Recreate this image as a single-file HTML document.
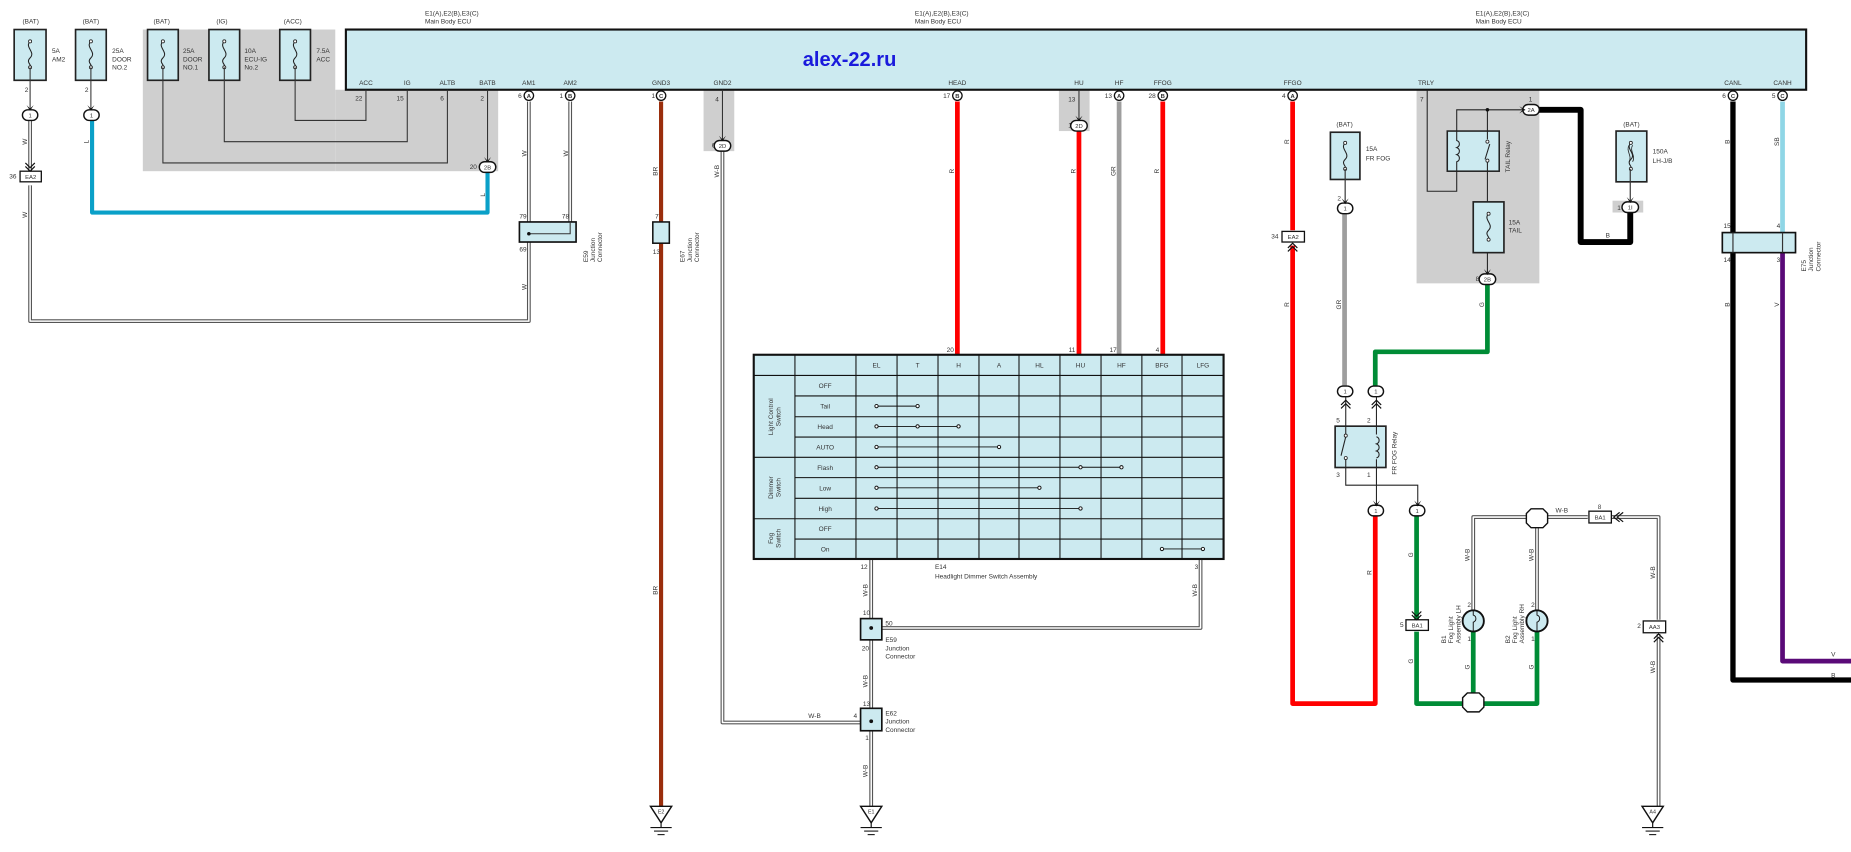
<!DOCTYPE html>
<html><head><meta charset="utf-8"><style>
html,body{margin:0;padding:0;background:#fff;}
svg{display:block;}
text{font-family:"Liberation Sans",sans-serif;fill:#333;}
.s{font-size:5.5px;}
.t{font-size:6px;fill:#222;}
.p{font-size:5.5px;fill:#444;}
</style></head><body>
<svg width="1851" height="852" viewBox="0 0 1568 721.7" xmlns="http://www.w3.org/2000/svg">
<defs>
<g id="fuse"><path d="M0,-11 c-5,5 5,9 0,14 c-4,4 2,6 0,8" fill="none" stroke="#222" stroke-width="0.9"/><circle cx="0" cy="-11" r="1.3" fill="#fff" stroke="#222" stroke-width="0.7"/><circle cx="0" cy="11" r="1.3" fill="#fff" stroke="#222" stroke-width="0.7"/></g>
<g id="gnd"><path d="M-9,-7 L9,-7 L0,7 Z" fill="#fff" stroke="#111" stroke-width="1.2"/><line x1="0" y1="7" x2="0" y2="11" stroke="#111"/><line x1="-9" y1="11" x2="9" y2="11" stroke="#111" stroke-width="0.9"/><line x1="-6" y1="14" x2="6" y2="14" stroke="#111" stroke-width="0.9"/><line x1="-3" y1="17" x2="3" y2="17" stroke="#111" stroke-width="0.9"/></g>
<g id="arr"><path d="M-3,-4 L0,1 L3,-4 L0,-1 Z" fill="#111"/></g>
<g id="dch"><path d="M-4,-6 L0,-2 L4,-6 M-4,-3 L0,1 L4,-3" fill="none" stroke="#111" stroke-width="1"/></g>
<g id="uch"><path d="M-4,6 L0,2 L4,6 M-4,3 L0,-1 L4,3" fill="none" stroke="#111" stroke-width="1"/></g>
</defs>

<!-- gray areas -->
<rect x="121" y="25" width="163" height="120" fill="#cfcfcf"/>
<rect x="284" y="76" width="138" height="69" fill="#cfcfcf"/>
<rect x="596" y="76" width="26" height="52" fill="#cfcfcf"/>
<rect x="897" y="76" width="26" height="35" fill="#cfcfcf"/>
<rect x="1200" y="76" width="104" height="164" fill="#cfcfcf"/>
<rect x="1366" y="170" width="26" height="10" fill="#cfcfcf"/>

<!-- top labels -->
<g class="s" text-anchor="middle">
<text x="26" y="20">(BAT)</text><text x="77" y="20">(BAT)</text><text x="137" y="20">(BAT)</text><text x="188" y="20">(IG)</text><text x="248" y="20">(ACC)</text>
</g>
<g class="s">
<text x="360" y="13">E1(A),E2(B),E3(C)</text><text x="360" y="20">Main Body ECU</text>
<text x="775" y="13">E1(A),E2(B),E3(C)</text><text x="775" y="20">Main Body ECU</text>
<text x="1250" y="13">E1(A),E2(B),E3(C)</text><text x="1250" y="20">Main Body ECU</text>
</g>

<!-- fuses -->
<g fill="#cceaf0" stroke="#222" stroke-width="1.4">
<rect x="12" y="25" width="27" height="43"/><rect x="64" y="25" width="26" height="43"/>
<rect x="125" y="25" width="26" height="43"/><rect x="177" y="25" width="26" height="43"/><rect x="237" y="25" width="26" height="43"/>
</g>
<use href="#fuse" x="25.5" y="46"/><use href="#fuse" x="77" y="46"/><use href="#fuse" x="138" y="46"/><use href="#fuse" x="190" y="46"/><use href="#fuse" x="250" y="46"/>
<g class="s">
<text x="44" y="45">5A</text><text x="44" y="52">AM2</text>
<text x="95" y="45">25A</text><text x="95" y="52">DOOR</text><text x="95" y="59">NO.2</text>
<text x="155" y="45">25A</text><text x="155" y="52">DOOR</text><text x="155" y="59">NO.1</text>
<text x="207" y="45">10A</text><text x="207" y="52">ECU-IG</text><text x="207" y="59">No.2</text>
<text x="268" y="45">7.5A</text><text x="268" y="52">ACC</text>
</g>

<!-- ECU -->
<rect x="293" y="25" width="1237" height="51" fill="#cceaf0" stroke="#111" stroke-width="1.8"/>
<text x="680" y="56" style="font-size:17px;font-weight:bold;fill:#1a1adc;">alex-22.ru</text>
<g class="s" text-anchor="middle">
<text x="310" y="72">ACC</text><text x="345" y="72">IG</text><text x="379" y="72">ALTB</text><text x="413" y="72">BATB</text><text x="448" y="72">AM1</text><text x="483" y="72">AM2</text>
<text x="560" y="72">GND3</text><text x="612" y="72">GND2</text><text x="811" y="72">HEAD</text><text x="914" y="72">HU</text><text x="948" y="72">HF</text><text x="985" y="72">FFOG</text>
<text x="1095" y="72">FFGO</text><text x="1208" y="72">TRLY</text><text x="1468" y="72">CANL</text><text x="1510" y="72">CANH</text>
</g>
<g class="p" text-anchor="end">
<text x="307" y="85">22</text><text x="342" y="85">15</text><text x="376" y="85">6</text><text x="410" y="85">2</text><text x="442" y="83">6</text><text x="477" y="83">1</text>
<text x="555" y="83">1</text><text x="609" y="86">4</text><text x="805" y="83">17</text><text x="911" y="86">13</text><text x="942" y="83">13</text><text x="979" y="83">28</text><text x="1089" y="83">4</text><text x="1206" y="86">7</text><text x="1462" y="83">6</text><text x="1504" y="83">5</text>
<text x="24" y="78">2</text><text x="75" y="78">2</text><text x="404" y="143">20</text><text x="609" y="125">62</text><text x="911" y="108">13</text>
</g>

<!-- gray thin wires -->
<g fill="none" stroke="#333" stroke-width="0.9">
<path d="M250,57 V102 H310 V76"/><path d="M190,57 V120 H345 V76"/><path d="M138,57 V138 H379 V76"/>
<path d="M413,76 V137"/><path d="M25.5,57 V93"/><path d="M77,57 V93"/>
<path d="M612,76 V119"/><path d="M914,76 V102"/>
</g>
<use href="#arr" x="413" y="137"/><use href="#arr" x="25.5" y="93"/><use href="#arr" x="77" y="93"/><use href="#arr" x="612" y="119"/><use href="#arr" x="914" y="102"/>

<!-- colored thick wires -->
<g fill="none" stroke-linejoin="round">
<path d="M413,146 V180 H78 V102" stroke="#0aa0c8" stroke-width="3.5"/>
<path d="M560,86 V684" stroke="#9a2e0c" stroke-width="3.5"/>
<path d="M811,86 V301" stroke="#ff0000" stroke-width="4"/>
<path d="M914,111 V301" stroke="#ff0000" stroke-width="4"/>
<path d="M948,86 V301" stroke="#9e9e9e" stroke-width="4"/>
<path d="M985,86 V301" stroke="#ff0000" stroke-width="4"/>
<path d="M1095,86 V195 M1095,208 V596 H1165 V437" stroke="#ff0000" stroke-width="4"/>
<path d="M1139,181 V327" stroke="#9e9e9e" stroke-width="4"/>
<path d="M1260,241 V298 H1165 V327" stroke="#008c36" stroke-width="4"/>
<path d="M1200,437 V525 M1200,535 V596 H1302 V534 M1248,534 V596" stroke="#008c36" stroke-width="4"/>
<path d="M1297,93 H1339 V205 H1381 V180" stroke="#000" stroke-width="5"/>
<path d="M1468,86 V576 H1568" stroke="#000" stroke-width="4.5"/>
<path d="M1510,86 V197" stroke="#8fd6e6" stroke-width="4"/>
<path d="M1510,214 V560 H1568" stroke="#5a0a78" stroke-width="4"/>
</g>

<!-- double wires -->
<g fill="none" stroke-linejoin="round">
<g stroke="#555" stroke-width="3.2">
<path d="M25.5,102 V145 M25.5,157 V272 H448 V86"/><path d="M483,86 V196"/>
<path d="M612,128 V612 H738"/><path d="M738,474 V685"/><path d="M1017,474 V532 H738"/>
<path d="M1248,517 V438 H1345 M1365,438 H1405 V525 M1405,537 V685 M1302,438 V517"/>
</g>
<g stroke="#fff" stroke-width="1.3">
<path d="M25.5,102 V145 M25.5,157 V272 H448 V86"/><path d="M483,86 V196"/>
<path d="M612,128 V612 H738"/><path d="M738,474 V685"/><path d="M1017,474 V532 H738"/>
<path d="M1248,517 V438 H1345 M1365,438 H1405 V525 M1405,537 V685 M1302,438 V517"/>
</g>
</g>

<!-- pin circles -->
<g fill="#fff" stroke="#111" stroke-width="1.1">
<circle cx="448" cy="81" r="4"/><circle cx="483" cy="81" r="4"/><circle cx="560" cy="81" r="4"/><circle cx="811" cy="81" r="4"/><circle cx="948" cy="81" r="4"/><circle cx="985" cy="81" r="4"/><circle cx="1095" cy="81" r="4"/><circle cx="1468" cy="81" r="4"/><circle cx="1510" cy="81" r="4"/>
</g>
<g font-size="5px" text-anchor="middle" font-weight="bold">
<text x="448" y="83">A</text><text x="483" y="83">B</text><text x="560" y="83">C</text><text x="811" y="83">B</text><text x="948" y="83">A</text><text x="985" y="83">B</text><text x="1095" y="83">A</text><text x="1468" y="83">C</text><text x="1510" y="83">C</text>
</g>

<!-- connectors (pills) -->
<g fill="#fff" stroke="#111" stroke-width="1.2">
<rect x="19" y="93" width="13" height="9" rx="4.5"/><rect x="71" y="93" width="13" height="9" rx="4.5"/>
<rect x="406" y="137" width="14" height="9" rx="4.5"/><rect x="605" y="119" width="14" height="9" rx="4.5"/><rect x="907" y="102" width="14" height="9" rx="4.5"/>
<rect x="1290" y="88.5" width="14" height="9" rx="4.5"/><rect x="1253" y="232" width="14" height="9" rx="4.5"/><rect x="1374" y="171" width="14" height="9" rx="4.5"/>
<rect x="1133" y="172" width="13" height="9" rx="4.5"/><rect x="1133" y="327" width="13" height="9" rx="4.5"/><rect x="1159" y="327" width="13" height="9" rx="4.5"/>
<rect x="1159" y="428" width="13" height="9" rx="4.5"/><rect x="1194" y="428" width="13" height="9" rx="4.5"/>
</g>
<g font-size="5px" text-anchor="middle">
<text x="25.5" y="99.5">1</text><text x="77.5" y="99.5">1</text><text x="413" y="143.5">2B</text><text x="612" y="125.5">2D</text><text x="914" y="108.5">2D</text>
<text x="1297" y="95">2A</text><text x="1260" y="238.5">2B</text><text x="1381" y="177.5">1I</text>
<text x="1139.5" y="178.5">1</text><text x="1139.5" y="333.5">1</text><text x="1165.5" y="333.5">1</text><text x="1165.5" y="434.5">1</text><text x="1200.5" y="434.5">1</text>
</g>

<!-- EA2 etc boxes -->
<g fill="#fff" stroke="#111" stroke-width="1.1">
<rect x="17" y="145" width="18" height="9"/><rect x="1086" y="196" width="19" height="9"/>
<rect x="1191" y="525" width="19" height="9"/><rect x="1346" y="433" width="19" height="10"/><rect x="1392" y="526" width="19" height="10"/>
</g>
<g font-size="5px" text-anchor="middle">
<text x="26" y="151.5">EA2</text><text x="1095.5" y="202.5">EA2</text><text x="1200.5" y="531.5">BA1</text><text x="1355.5" y="440">BA1</text><text x="1401.5" y="533">AA3</text>
</g>
<use href="#dch" x="25.5" y="144"/><use href="#uch" x="1095" y="207"/><use href="#dch" x="1200" y="524"/><use href="#uch" x="1405" y="538"/>
<path d="M1372,434 L1367,438 L1372,442 M1375,434 L1370,438 L1375,442" fill="none" stroke="#111"/>
<g class="p" text-anchor="end"><text x="14" y="151">36</text><text x="1083" y="202">34</text><text x="1189" y="531">5</text><text x="1390" y="532">2</text></g>
<text class="p" x="1355" y="431" text-anchor="middle">8</text>

<!-- E59 top junction -->
<rect x="440" y="188" width="48" height="17" fill="#cceaf0" stroke="#111" stroke-width="1.4"/>
<path d="M448,198 H483 V188" fill="none" stroke="#333" stroke-width="0.9"/><circle cx="448" cy="198" r="1.5" fill="#111"/>
<g class="p"><text x="440" y="185">79</text><text x="476" y="185">78</text><text x="440" y="213">69</text></g>
<text class="s" transform="translate(498,222) rotate(-90)">E59</text>
<text class="s" transform="translate(504,222) rotate(-90)">Junction</text>
<text class="s" transform="translate(510,222) rotate(-90)">Connector</text>

<!-- E67 -->
<rect x="553" y="188" width="14" height="18" fill="#cceaf0" stroke="#111" stroke-width="1.3"/>
<g class="p"><text x="555" y="185">7</text><text x="553" y="215">13</text></g>
<text class="s" transform="translate(580,222) rotate(-90)">E67</text>
<text class="s" transform="translate(586,222) rotate(-90)">Junction</text>
<text class="s" transform="translate(592,222) rotate(-90)">Connector</text>

<!-- E75 -->
<rect x="1459" y="197" width="62" height="17" fill="#cceaf0" stroke="#111" stroke-width="1.4"/>
<path d="M1468,197 V214 M1510,197 V214" stroke="#333"/>
<g class="p"><text x="1460" y="193">15</text><text x="1505" y="193">4</text><text x="1460" y="222">14</text><text x="1505" y="222">3</text></g>
<text class="s" transform="translate(1530,230) rotate(-90)">E75</text>
<text class="s" transform="translate(1536,230) rotate(-90)">Junction</text>
<text class="s" transform="translate(1542,230) rotate(-90)">Connector</text>

<!-- wire color labels -->
<g class="s" text-anchor="middle">
<text transform="translate(23,120) rotate(-90)">W</text><text transform="translate(23,182) rotate(-90)">W</text><text transform="translate(75,120) rotate(-90)">L</text>
<text transform="translate(411,165) rotate(-90)">L</text><text transform="translate(446,130) rotate(-90)">W</text><text transform="translate(481,130) rotate(-90)">W</text><text transform="translate(446,243) rotate(-90)">W</text>
<text transform="translate(557,145) rotate(-90)">BR</text><text transform="translate(557,500) rotate(-90)">BR</text><text transform="translate(609,145) rotate(-90)">W-B</text>
<text transform="translate(808,145) rotate(-90)">R</text><text transform="translate(911,145) rotate(-90)">R</text><text transform="translate(945,145) rotate(-90)">GR</text><text transform="translate(982,145) rotate(-90)">R</text>
<text transform="translate(1092,120) rotate(-90)">R</text><text transform="translate(1092,258) rotate(-90)">R</text><text transform="translate(1136,258) rotate(-90)">GR</text><text transform="translate(1257,258) rotate(-90)">G</text>
<text transform="translate(1465,120) rotate(-90)">B</text><text transform="translate(1465,258) rotate(-90)">B</text><text transform="translate(1507,120) rotate(-90)">SB</text><text transform="translate(1507,258) rotate(-90)">V</text>
<text transform="translate(1162,485) rotate(-90)">R</text><text transform="translate(1197,470) rotate(-90)">G</text><text transform="translate(1197,560) rotate(-90)">G</text>
<text transform="translate(1245,470) rotate(-90)">W-B</text><text transform="translate(1245,565) rotate(-90)">G</text><text transform="translate(1299,470) rotate(-90)">W-B</text><text transform="translate(1299,565) rotate(-90)">G</text>
<text transform="translate(1402,485) rotate(-90)">W-B</text><text transform="translate(1402,565) rotate(-90)">W-B</text>
<text transform="translate(735,500) rotate(-90)">W-B</text><text transform="translate(735,577) rotate(-90)">W-B</text><text transform="translate(735,653) rotate(-90)">W-B</text><text transform="translate(1014,500) rotate(-90)">W-B</text>
<text x="1362" y="201">B</text><text x="1553" y="556">V</text><text x="1553" y="574">B</text><text x="1323" y="434">W-B</text><text x="690" y="608">W-B</text>
</g>

<!-- Headlight dimmer switch table -->
<rect x="638.5" y="300.5" width="398" height="173" fill="#cceaf0" stroke="#111" stroke-width="1.8"/>
<g stroke="#111" stroke-width="0.9">
<line x1="673.4" y1="300.5" x2="673.4" y2="473.5"/><line x1="725.1" y1="300.5" x2="725.1" y2="473.5"/><line x1="759.9" y1="300.5" x2="759.9" y2="473.5"/><line x1="794.6" y1="300.5" x2="794.6" y2="473.5"/><line x1="829.3" y1="300.5" x2="829.3" y2="473.5"/><line x1="863.2" y1="300.5" x2="863.2" y2="473.5"/><line x1="897.9" y1="300.5" x2="897.9" y2="473.5"/><line x1="932.7" y1="300.5" x2="932.7" y2="473.5"/><line x1="967.3" y1="300.5" x2="967.3" y2="473.5"/><line x1="1001.3" y1="300.5" x2="1001.3" y2="473.5"/>
<line x1="638.5" y1="318" x2="1036.5" y2="318"/><line x1="638.5" y1="387.4" x2="1036.5" y2="387.4"/><line x1="638.5" y1="439.4" x2="1036.5" y2="439.4"/>
<line x1="673.4" y1="335.4" x2="1036.5" y2="335.4"/><line x1="673.4" y1="353" x2="1036.5" y2="353"/><line x1="673.4" y1="370.2" x2="1036.5" y2="370.2"/><line x1="673.4" y1="404.6" x2="1036.5" y2="404.6"/><line x1="673.4" y1="422.1" x2="1036.5" y2="422.1"/><line x1="673.4" y1="456.6" x2="1036.5" y2="456.6"/>
</g>
<g class="s" text-anchor="middle">
<text x="742.5" y="311.5">EL</text><text x="777.3" y="311.5">T</text><text x="812" y="311.5">H</text><text x="846.3" y="311.5">A</text><text x="880.5" y="311.5">HL</text><text x="915.3" y="311.5">HU</text><text x="950" y="311.5">HF</text><text x="984.3" y="311.5">BFG</text><text x="1019" y="311.5">LFG</text>
<text x="699" y="328.7">OFF</text><text x="699" y="346.2">Tail</text><text x="699" y="363.6">Head</text><text x="699" y="380.8">AUTO</text><text x="699" y="398">Flash</text><text x="699" y="415.3">Low</text><text x="699" y="432.7">High</text><text x="699" y="450">OFF</text><text x="699" y="467">On</text>
<text transform="translate(655,353) rotate(-90)">Light Control</text><text transform="translate(661,353) rotate(-90)">Switch</text>
<text transform="translate(655,413) rotate(-90)">Dimmer</text><text transform="translate(661,413) rotate(-90)">Switch</text>
<text transform="translate(655,456) rotate(-90)">Fog</text><text transform="translate(661,456) rotate(-90)">Switch</text>
</g>
<g stroke="#111" stroke-width="0.8" fill="none">
<line x1="742.5" y1="344" x2="777.3" y2="344"/><line x1="742.5" y1="361.2" x2="812" y2="361.2"/><line x1="742.5" y1="378.6" x2="846.3" y2="378.6"/><line x1="742.5" y1="395.8" x2="950" y2="395.8"/><line x1="742.5" y1="413.2" x2="880.5" y2="413.2"/><line x1="742.5" y1="430.7" x2="915.3" y2="430.7"/><line x1="984.3" y1="465" x2="1019" y2="465"/>
</g>
<g fill="#fff" stroke="#111" stroke-width="0.8">
<circle cx="742.5" cy="344" r="1.4"/><circle cx="777.3" cy="344" r="1.4"/>
<circle cx="742.5" cy="361.2" r="1.4"/><circle cx="777.3" cy="361.2" r="1.4"/><circle cx="812" cy="361.2" r="1.4"/>
<circle cx="742.5" cy="378.6" r="1.4"/><circle cx="846.3" cy="378.6" r="1.4"/>
<circle cx="742.5" cy="395.8" r="1.4"/><circle cx="915.3" cy="395.8" r="1.4"/><circle cx="950" cy="395.8" r="1.4"/>
<circle cx="742.5" cy="413.2" r="1.4"/><circle cx="880.5" cy="413.2" r="1.4"/>
<circle cx="742.5" cy="430.7" r="1.4"/><circle cx="915.3" cy="430.7" r="1.4"/>
<circle cx="984.3" cy="465" r="1.4"/><circle cx="1019" cy="465" r="1.4"/>
</g>
<g class="p" text-anchor="end"><text x="808" y="298">20</text><text x="911" y="298">11</text><text x="946" y="298">17</text><text x="982" y="298">4</text><text x="735" y="482">12</text><text x="1015" y="482">3</text></g>
<text class="s" x="792" y="482">E14</text><text class="s" x="792" y="490">Headlight Dimmer Switch Assembly</text>

<!-- E59 / E62 lower -->
<rect x="729" y="524" width="18" height="18" fill="#cceaf0" stroke="#111" stroke-width="1.4"/><circle cx="738" cy="532" r="1.6" fill="#111"/>
<rect x="729" y="600" width="18" height="19" fill="#cceaf0" stroke="#111" stroke-width="1.4"/><circle cx="738" cy="611" r="1.6" fill="#111"/>
<g class="p"><text x="731" y="521">10</text><text x="750" y="530">50</text><text x="730" y="551">20</text><text x="731" y="598">13</text><text x="723" y="608">4</text><text x="733" y="627">1</text></g>
<g class="s"><text x="750" y="544">E59</text><text x="750" y="551">Junction</text><text x="750" y="558">Connector</text><text x="750" y="606">E62</text><text x="750" y="613">Junction</text><text x="750" y="620">Connector</text></g>

<!-- grounds -->
<use href="#gnd" x="560" y="690"/><use href="#gnd" x="738" y="690"/><use href="#gnd" x="1400" y="690"/>
<g font-size="4.5px" text-anchor="middle"><text x="560" y="689">E2</text><text x="738" y="689">E1</text><text x="1400" y="689">A4</text></g>

<!-- FR FOG fuse -->
<rect x="1127" y="112" width="25" height="40" fill="#cceaf0" stroke="#222" stroke-width="1.4"/><use href="#fuse" x="1139.5" y="132"/>
<path d="M1139.5,143 V172" stroke="#333" fill="none"/><use href="#arr" x="1139.5" y="172"/>
<text class="s" x="1139" y="107" text-anchor="middle">(BAT)</text><text class="s" x="1157" y="128">15A</text><text class="s" x="1157" y="136">FR FOG</text><text class="p" x="1136" y="170" text-anchor="end">2</text>

<!-- FR FOG relay -->
<rect x="1131" y="361" width="43" height="35" fill="#cceaf0" stroke="#222" stroke-width="1.4"/>
<g stroke="#222" stroke-width="0.9" fill="none">
<path d="M1140,336 V368 M1140,389 V411 H1201 V428 M1166,336 V368 M1166,389 V428"/>
<path d="M1140,370 L1136,386"/>
<path d="M1166,370 c3,1 3,5 0,6 c3,1 3,5 0,6 c3,1 3,5 0,6"/>
</g>
<circle cx="1140" cy="369" r="1.3" fill="#fff" stroke="#222" stroke-width="0.7"/><circle cx="1140" cy="388" r="1.3" fill="#fff" stroke="#222" stroke-width="0.7"/>
<use href="#uch" x="1140" y="340"/><use href="#uch" x="1166" y="340"/><use href="#arr" x="1166" y="428"/><use href="#arr" x="1201" y="428"/>
<g class="p"><text x="1132" y="358">5</text><text x="1158" y="358">2</text><text x="1132" y="404">3</text><text x="1158" y="404">1</text></g>
<text class="s" transform="translate(1183,402) rotate(-90)">FR FOG Relay</text>

<!-- TAIL relay -->
<g stroke="#222" stroke-width="0.9" fill="none">
<path d="M1209,76 V162 H1234 V93 H1292"/>
<path d="M1260,93 V232"/>
</g>
<circle cx="1260" cy="93" r="1.5" fill="#111"/>
<use href="#arr" x="1291" y="93" transform="rotate(-90 1291 93)"/>
<rect x="1226" y="111" width="44" height="34" fill="#cceaf0" stroke="#222" stroke-width="1.3"/>
<path d="M1234,111 V119 c3,1 3,5 0,6 c3,1 3,5 0,6 c3,1 3,5 0,6 V145 M1260,111 V118 M1262,122 L1258,135 M1260,137 V145" stroke="#222" stroke-width="0.9" fill="none"/>
<circle cx="1260" cy="120" r="1.3" fill="#fff" stroke="#222" stroke-width="0.7"/><circle cx="1260" cy="136" r="1.3" fill="#fff" stroke="#222" stroke-width="0.7"/>
<text class="s" transform="translate(1279,146) rotate(-90)">TAIL Relay</text>
<rect x="1248" y="171" width="26" height="43" fill="#cceaf0" stroke="#222" stroke-width="1.4"/><use href="#fuse" x="1261" y="192"/>
<use href="#arr" x="1260" y="232"/>
<text class="s" x="1278" y="190">15A</text><text class="s" x="1278" y="197">TAIL</text>
<g class="p"><text x="1295" y="86">1</text><text x="1250" y="238">8</text><text x="1370" y="178">1</text></g>

<!-- 150A fuse -->
<rect x="1369" y="111" width="26" height="43" fill="#cceaf0" stroke="#222" stroke-width="1.4"/>
<use href="#fuse" x="1381.5" y="132"/><path d="M1380,123 c-3,5 3,9 0,14 M1383,123 c-3,5 3,9 0,14" stroke="#222" stroke-width="0.7" fill="none"/>
<path d="M1381,143 V171" stroke="#333" fill="none"/><use href="#arr" x="1381" y="171"/>
<text class="s" x="1382" y="107" text-anchor="middle">(BAT)</text><text class="s" x="1400" y="130">150A</text><text class="s" x="1400" y="138">LH-J/B</text>

<!-- fog lamps & junctions -->
<g fill="#cceaf0" stroke="#111" stroke-width="1.6">
<circle cx="1248" cy="526" r="9"/><circle cx="1302" cy="526" r="9"/>
</g>
<path d="M1248,517 V521 c3,1 3,5 0,6 V535 M1302,517 V521 c3,1 3,5 0,6 V535" stroke="#111" stroke-width="0.8" fill="none"/>
<path d="M1297,431 h10 l4,4 v8 l-4,4 h-10 l-4,-4 v-8 z M1243,587 h10 l4,4 v8 l-4,4 h-10 l-4,-4 v-8 z" fill="#fff" stroke="#111" stroke-width="1.2"/>
<g class="p"><text x="1243" y="514">2</text><text x="1297" y="514">2</text><text x="1243" y="543">1</text><text x="1297" y="543">1</text></g>
<g class="s">
<text transform="translate(1225,545) rotate(-90)">B1</text><text transform="translate(1231,545) rotate(-90)">Fog Light</text><text transform="translate(1237,545) rotate(-90)">Assembly LH</text>
<text transform="translate(1279,545) rotate(-90)">B2</text><text transform="translate(1285,545) rotate(-90)">Fog Light</text><text transform="translate(1291,545) rotate(-90)">Assembly RH</text>
</g>
</svg>
</body></html>
